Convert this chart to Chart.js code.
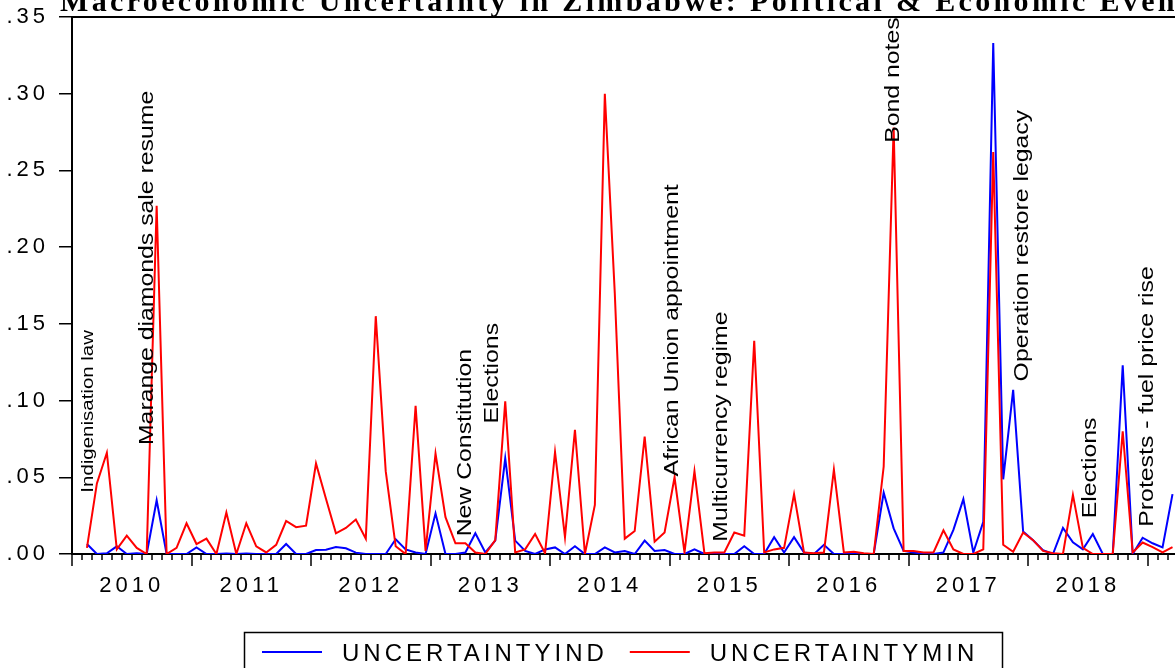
<!DOCTYPE html>
<html>
<head>
<meta charset="utf-8">
<title>Macroeconomic Uncertainty in Zimbabwe</title>
<script src="https://cdn.jsdelivr.net/npm/chart.js@4.4.1/dist/chart.umd.min.js"></script>
<style>
  html, body { margin: 0; padding: 0; background: #fff; }
  canvas { display: block; }
</style>
</head>
<body>
<canvas id="chart" width="1175" height="668"></canvas>
<script>
const TITLE = 'Macroeconomic Uncertainty in Zimbabwe: Political & Economic Events';

// monthly series, first observation 2010M02
const startYear = 2010;
const startMonth = 2;
const years = ['2010', '2011', '2012', '2013', '2014', '2015', '2016', '2017', '2018'];
const yTicks = [0, 0.05, 0.10, 0.15, 0.20, 0.25, 0.30, 0.35];
const yTickLabels = ['.00', '.05', '.10', '.15', '.20', '.25', '.30', '.35'];

const uncertaintyInd = [
  0.0065, 0.000, 0.0005, 0.005, 0.000, 0.0005, 0.000, 0.035, 0.000, 0.000, 0.000,   // 2010
  0.0043, 0.000, 0.000, 0.0003, 0.000, 0.0003, 0.000, 0.000, 0.000, 0.0065, 0.000, 0.000,   // 2011
  0.0026, 0.0028, 0.0046, 0.0037, 0.0009, 0.000, 0.000, 0.000, 0.0096, 0.003, 0.001, 0.000, // 2012
  0.0265, 0.000, 0.000, 0.001, 0.0135, 0.001, 0.0087, 0.0624, 0.0087, 0.002, 0.000, 0.003,  // 2013
  0.0043, 0.000, 0.005, 0.000, 0.000, 0.0043, 0.001, 0.002, 0.000, 0.0087, 0.002, 0.0026,   // 2014
  0.000, 0.000, 0.003, 0.000, 0.000, 0.000, 0.000, 0.005, 0.000, 0.000, 0.011, 0.001,       // 2015
  0.011, 0.001, 0.000, 0.006, 0.000, 0.000, 0.000, 0.000, 0.000, 0.040, 0.0167, 0.002,     // 2016
  0.001, 0.000, 0.000, 0.001, 0.0157, 0.0358, 0.001, 0.021, 0.333, 0.0487, 0.107, 0.0147,   // 2017
  0.009, 0.0025, 0.000, 0.017, 0.0076, 0.003, 0.013, 0.000, 0.000, 0.123, 0.000, 0.0106,   // 2018
  0.007, 0.0043, 0.039                                                                      // 2019
];

const uncertaintyMin = [
  0.004, 0.046, 0.066, 0.003, 0.012, 0.004, 0.000, 0.227, 0.000, 0.004, 0.020,             // 2010
  0.0065, 0.010, 0.000, 0.027, 0.000, 0.020, 0.005, 0.001, 0.006, 0.0215, 0.0175, 0.0185,  // 2011
  0.059, 0.036, 0.0135, 0.017, 0.0225, 0.010, 0.155, 0.054, 0.005, 0.000, 0.0965, 0.002,   // 2012
  0.0655, 0.024, 0.007, 0.007, 0.001, 0.000, 0.009, 0.0995, 0.001, 0.003, 0.013, 0.0005,  // 2013
  0.0665, 0.011, 0.081, 0.000, 0.032, 0.300, 0.170, 0.010, 0.015, 0.0765, 0.008, 0.014,    // 2014
  0.050, 0.001, 0.054, 0.0005, 0.001, 0.001, 0.014, 0.012, 0.139, 0.001, 0.003, 0.004,     // 2015
  0.039, 0.001, 0.0005, 0.001, 0.055, 0.001, 0.0015, 0.0005, 0.000, 0.057, 0.278, 0.002,   // 2016
  0.002, 0.001, 0.001, 0.0155, 0.003, 0.000, 0.000, 0.003, 0.262, 0.006, 0.0015, 0.014,    // 2017
  0.009, 0.002, 0.0005, 0.000, 0.0385, 0.004, 0.000, 0.000, 0.000, 0.080, 0.001, 0.0075,  // 2018
  0.0045, 0.001, 0.0045                                                                     // 2019
];

// event labels, m = months since Jan 2010, v = value where the text starts
const notes = [
  { text: 'Indigenisation law', m: 2.15, v: 0.040, size: 16.5 },
  { text: 'Marange diamonds sale resume', m: 8.1, v: 0.071, size: 20 },
  { text: 'New Constitution', m: 40.05, v: 0.0115, size: 20 },
  { text: 'Elections', m: 42.75, v: 0.085, size: 20 },
  { text: 'African Union appointment', m: 60.85, v: 0.0505, size: 20 },
  { text: 'Multicurrency regime', m: 65.8, v: 0.008, size: 20 },
  { text: 'Bond notes', m: 83.05, v: 0.268, size: 20 },
  { text: 'Operation restore legacy', m: 96.0, v: 0.1125, size: 20 },
  { text: 'Elections', m: 102.8, v: 0.0233, size: 20 },
  { text: 'Protests - fuel price rise', m: 108.5, v: 0.0178, size: 20 }
];

const SANS = '"Liberation Sans", Arial, sans-serif';

function toPoints(values) {
  // each month is drawn at the middle of its slot, like EViews does
  return values.map((v, k) => ({ x: (startMonth - 1) + k + 0.5, y: v }));
}

const eviewsDecor = {
  id: 'eviewsDecor',
  beforeDraw(chart) {
    chart.ctx.letterSpacing = '4px';
  },
  afterDraw(chart) {
    const { ctx, chartArea: a, scales: { x, y } } = chart;
    ctx.save();
    ctx.letterSpacing = '0px';
    ctx.strokeStyle = '#000';
    ctx.fillStyle = '#000';

    // top frame line
    ctx.lineWidth = 2;
    ctx.beginPath();
    ctx.moveTo(a.left - 1, a.top);
    ctx.lineTo(a.right, a.top);
    ctx.stroke();

    // monthly minor ticks, yearly major ticks
    ctx.lineWidth = 1.5;
    for (let m = 0; m <= x.max; m++) {
      const px = Math.round(x.getPixelForValue(m));
      ctx.beginPath();
      ctx.moveTo(px, a.bottom);
      ctx.lineTo(px, a.bottom + (m % 12 === 0 ? 12 : 6));
      ctx.stroke();
    }

    // event annotations, vertical text
    notes.forEach(n => {
      ctx.save();
      ctx.translate(x.getPixelForValue(n.m), y.getPixelForValue(n.v));
      ctx.rotate(-Math.PI / 2);
      ctx.scale(1.24, 1);
      ctx.font = n.size + 'px ' + SANS;
      ctx.textAlign = 'left';
      ctx.textBaseline = 'alphabetic';
      ctx.fillText(n.text, 0, 0);
      ctx.restore();
    });

    // title, cut off at the top like the original
    ctx.font = 'bold 30px "Liberation Serif", "Times New Roman", serif';
    ctx.textAlign = 'left';
    ctx.textBaseline = 'alphabetic';
    const visible = TITLE.slice(0, TITLE.indexOf('Even') + 4);
    const w = ctx.measureText(visible).width;
    const sp = Math.max(0, (1118 - w) / visible.length);
    ctx.letterSpacing = sp.toFixed(2) + 'px';
    ctx.fillText(TITLE, 60, 11);
    ctx.letterSpacing = '0px';

    // legend box
    ctx.lineWidth = 1.5;
    ctx.strokeRect(244.5, 632.5, 758, 60);
    ctx.font = '24px ' + SANS;
    ctx.letterSpacing = '4px';
    ctx.textBaseline = 'alphabetic';
    let lx = 262;
    chart.data.datasets.forEach(ds => {
      ctx.strokeStyle = ds.borderColor;
      ctx.lineWidth = 2;
      ctx.beginPath();
      ctx.moveTo(lx, 652);
      ctx.lineTo(lx + 60, 652);
      ctx.stroke();
      ctx.fillText(ds.label, lx + 80, 661);
      lx += 80 + ctx.measureText(ds.label).width + 22;
    });
    ctx.restore();
  }
};

new Chart(document.getElementById('chart'), {
  type: 'line',
  data: {
    datasets: [
      {
        label: 'UNCERTAINTYIND',
        data: toPoints(uncertaintyInd),
        borderColor: '#0000ff',
        borderWidth: 2,
        pointRadius: 0,
        tension: 0,
        order: 1
      },
      {
        label: 'UNCERTAINTYMIN',
        data: toPoints(uncertaintyMin),
        borderColor: '#ff0000',
        borderWidth: 2,
        pointRadius: 0,
        tension: 0,
        order: 0
      }
    ]
  },
  options: {
    responsive: false,
    devicePixelRatio: 1,
    animation: false,
    layout: { padding: { top: 17, left: 0, right: 0, bottom: 0 } },
    plugins: {
      legend: { display: false },
      title: { display: false },
      tooltip: { enabled: false }
    },
    scales: {
      x: {
        type: 'linear',
        min: 0,
        max: 110.75,
        afterBuildTicks: scale => {
          scale.ticks = years.map((yr, k) => ({ value: 12 * k + 6 }));
        },
        afterFit: scale => {
          scale.height = 114;
          scale.paddingLeft = 0;
          scale.paddingRight = 0;
        },
        ticks: {
          autoSkip: false,
          maxRotation: 0,
          padding: 19,
          color: '#000',
          font: { family: SANS, size: 22 },
          callback: (value, index) => years[index]
        },
        grid: { display: false, drawTicks: false },
        border: { display: true, color: '#000', width: 2 }
      },
      y: {
        min: 0,
        max: 0.35,
        afterBuildTicks: scale => {
          scale.ticks = yTicks.map(v => ({ value: v }));
        },
        afterFit: scale => {
          scale.width = 72;
          scale.paddingTop = 0;
          scale.paddingBottom = 0;
        },
        ticks: {
          padding: 10,
          color: '#000',
          font: { family: SANS, size: 22 },
          callback: (value, index) => yTickLabels[index]
        },
        grid: { drawOnChartArea: false, drawTicks: true, tickLength: 13, color: '#000', lineWidth: 1.5 },
        border: { display: true, color: '#000', width: 2 }
      }
    }
  },
  plugins: [eviewsDecor]
});
</script>
</body>
</html>
